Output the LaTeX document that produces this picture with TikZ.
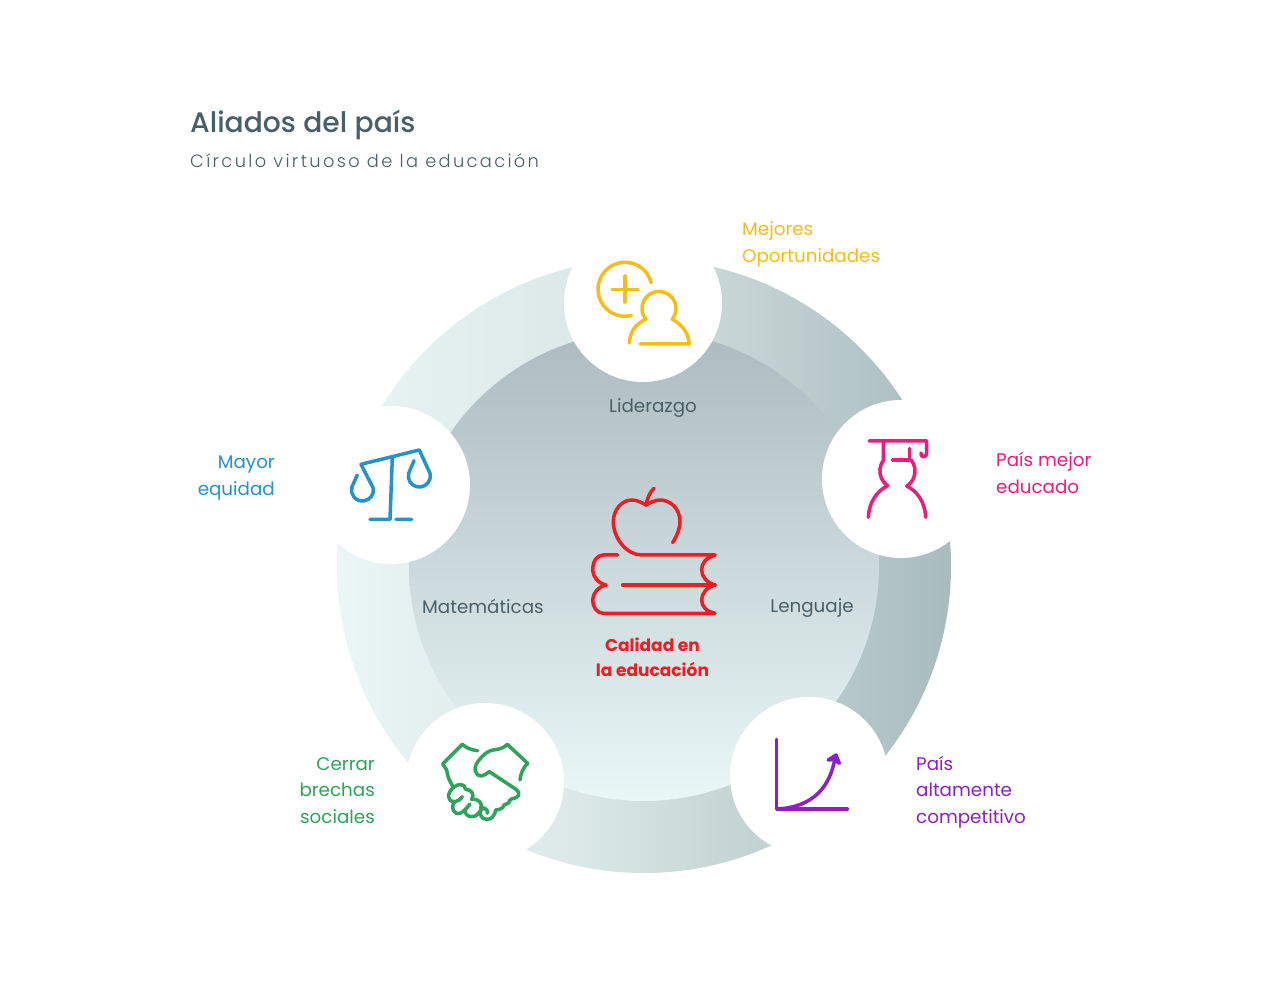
\documentclass[tikz,border=0pt]{standalone}
\usepackage{fontspec}
\setmainfont{Poppins}
\newfontfamily\titlefont{Poppins Medium}
\newfontfamily\subfont[LetterSpace=13.2]{Poppins Light}
\definecolor{cyel}{HTML}{F6BD16}
\definecolor{cpnk}{HTML}{EC1B7C}
\definecolor{cpur}{HTML}{8C1FC5}
\definecolor{cgrn}{HTML}{2EA35A}
\definecolor{cblu}{HTML}{2393C9}
\definecolor{cred}{HTML}{EE1C24}
\definecolor{cslate}{HTML}{4A5F68}
\definecolor{ctitle}{HTML}{45606A}
\definecolor{disct}{HTML}{ACBBC0}
\definecolor{discb}{HTML}{EAF7F7}
\definecolor{ra}{HTML}{EBF7F7}
\definecolor{rb}{HTML}{E6F1F1}
\definecolor{rc}{HTML}{DDE9E9}
\definecolor{rd}{HTML}{D2E0E0}
\definecolor{re}{HTML}{C8D6D6}
\definecolor{rf}{HTML}{A8BBBE}
\pgfdeclarehorizontalshading{ringshade}{100bp}{color(0bp)=(ra); color(25bp)=(ra); color(30bp)=(rb); color(44bp)=(rc); color(50bp)=(rd); color(56bp)=(re); color(75bp)=(rf); color(100bp)=(rf)}
\tikzset{
  whitecirc/.style={circle,fill=white,inner sep=0pt,minimum size=158pt},
  lab/.style={inner sep=0pt,font=\fontsize{18.3}{26.5}\selectfont},
  leftlab/.style={lab,anchor=west,align=left},
  rightlab/.style={lab,anchor=east,align=right},
  innerlab/.style={lab,text=cslate,anchor=center},
  icon/.style={line width=3.5pt,line cap=round,line join=round},
}
\begin{document}
\begin{tikzpicture}[x=1pt,y=1pt,yscale=-1]
\useasboundingbox (0,0) rectangle (1270,981);
\fill[white] (0,0) rectangle (1270,981);
% ring and inner disc
\shade[shading=ringshade] (644,566) circle[radius=307pt];
\shade[top color=disct,bottom color=discb] (644,566) circle[radius=235pt];
% white circles
\node[whitecirc] (top) at (643,303) {};
\node[whitecirc] (right) at (901,479) {};
\node[whitecirc] (left) at (391,485) {};
\node[whitecirc] (botleft) at (485,782) {};
\node[whitecirc] (botright) at (809,776) {};
% title
\node[inner sep=0pt,anchor=west,text=ctitle,font=\titlefont\fontsize{28.2}{32}\selectfont] (title) at (190,125) {Aliados del país};
\node[inner sep=0pt,anchor=west,text=ctitle,font=\subfont\fontsize{17.8}{20}\selectfont] (subtitle) at (190,160.5) {Círculo virtuoso de la educación};
% labels
\node[leftlab,text=cyel] (l1) at (742,244.5) {Mejores\\Oportunidades};
\node[leftlab,text=cpnk] (l2) at (996,473) {País mejor\\educado};
\node[leftlab,text=cpur] (l3) at (916,792) {País\\altamente\\competitivo};
\node[rightlab,text=cgrn] (l4) at (375,790.5) {Cerrar\\brechas\\sociales};
\node[rightlab,text=cblu] (l5) at (275,478) {Mayor\\equidad};
\node[innerlab] (t1) at (653,408) {Liderazgo};
\node[innerlab] (t2) at (483,606) {Matemáticas};
\node[innerlab] (t3) at (812,608) {Lenguaje};
\node[lab,anchor=center,align=center,text=cred,font=\bfseries\fontsize{17}{25}\selectfont] (t4) at (652.5,657) {Calidad en\\la educación};
% yellow icon
\draw[icon,cyel] (625,289.3) ++(-14:27pt) arc[start angle=-14,end angle=-284,radius=27pt];
\draw[icon,cyel] (612,289.3) -- (638,289.3) (625,276) -- (625,302);
\draw[icon,cyel] (629.3,343) .. controls (630,331) and (636,324) .. (645.8,319.2) arc[start angle=141,end angle=399,radius=17pt] .. controls (681,324) and (688.5,332) .. (689.3,344) -- (640,344);
% pink icon
\draw[icon,cpnk] (869,441) -- (926.7,441) -- (926.7,452) .. controls (927,458.5) and (920,458) .. (921,453);
\draw[icon,cpnk] (883.3,441) -- (883.3,460.4) arc[start angle=216,end angle=125,radius=18pt] .. controls (877,491) and (869,502) .. (868.3,517.3);
\draw[icon,cpnk] (909.3,448.3) -- (909.3,460) -- (892.7,460);
\draw[icon,cpnk] (911,459.7) arc[start angle=-39,end angle=57,radius=18pt] .. controls (917,491) and (925,502) .. (925.7,517.3);
% blue icon
\draw[icon,cblu] (414,460.7) -- (408.7,473.2) arc[start angle=195,end angle=-14,radius=11pt] -- (419.3,450) -- (361,464.3) -- (373.3,488.3) arc[start angle=-9,end angle=195,radius=11pt] -- (357.3,475);
\draw[icon,cblu] (392.3,458.3) -- (390,519.3) -- (370,519.3) (396,519.3) -- (411.7,519.3);
% green icon
\begin{scope}[shift={(430,730)},scale=1/3]
\draw[icon,cgrn] (143,62) .. controls (125,60) and (110,55) .. (97,43) -- (38,102) -- (50,120) .. controls (52,140) and (60,155) .. (70,172);
\draw[icon,cgrn] (270,150) .. controls (272,130) and (280,112) .. (293,100) -- (232,43) .. controls (222,55) and (205,58) .. (190,60) .. controls (170,62) and (150,85) .. (140,100) .. controls (130,115) and (135,138) .. (155,138) .. controls (165,138) and (170,128) .. (178,125) -- (258,178) .. controls (270,187) and (268,198) .. (258,203) .. controls (250,207) and (240,205) .. (238,212) .. controls (240,222) and (225,222) .. (222,225) .. controls (222,235) and (205,240) .. (197,240) .. controls (195,255) and (185,270) .. (170,268) .. controls (155,268) and (150,255) .. (150,245);
\draw[icon,cgrn] (70,172) .. controls (50,190) and (50,215) .. (75,215) .. controls (85,215) and (90,208) .. (97,200);
\draw[icon,cgrn] (75,215) .. controls (60,230) and (70,255) .. (90,250) .. controls (100,245) and (110,235) .. (120,222);
\draw[icon,cgrn] (105,240) .. controls (105,262) and (130,268) .. (145,250) -- (160,232);
\draw[icon,cgrn] (70,172) .. controls (85,160) and (105,160) .. (107,178) .. controls (125,178) and (135,195) .. (125,208) .. controls (145,205) and (160,220) .. (152,235) .. controls (165,232) and (175,240) .. (172,250);
\end{scope}
% red icon
\begin{scope}[shift={(580,480)},scale=1/3]
\draw[icon,cred] (222,25) .. controls (208,38) and (202,55) .. (198,75);
\draw[icon,cred] (278,188) .. controls (295,160) and (300,140) .. (300,125) .. controls (300,85) and (270,60) .. (240,60) .. controls (225,60) and (210,68) .. (198,75) .. controls (185,68) and (172,60) .. (155,60) .. controls (125,60) and (100,90) .. (100,125) .. controls (100,175) and (140,225) .. (185,225) -- (405,225) .. controls (375,235) and (365,250) .. (365,270) .. controls (365,290) and (380,308) .. (405,315) .. controls (380,322) and (365,340) .. (365,360) .. controls (365,380) and (380,395) .. (405,400) -- (70,400) .. controls (50,400) and (38,380) .. (38,360) .. controls (38,340) and (55,320) .. (78,315) .. controls (55,310) and (38,290) .. (38,270) .. controls (38,245) and (50,225) .. (70,225) -- (113,225);
\draw[icon,cred] (128,315) -- (405,315);
\end{scope}
% purple icon
\begin{scope}[shift={(760,730)},scale=1/3]
\draw[icon,cpur] (50,28) -- (50,237) -- (262,237);
\draw[icon,cpur] (50,237) .. controls (160,232) and (210,170) .. (225,85);
\draw[icon,cpur,fill=cpur] (205,90) -- (228,75) -- (238,100) -- (222,88) -- cycle;
\end{scope}
\end{tikzpicture}
\end{document}
